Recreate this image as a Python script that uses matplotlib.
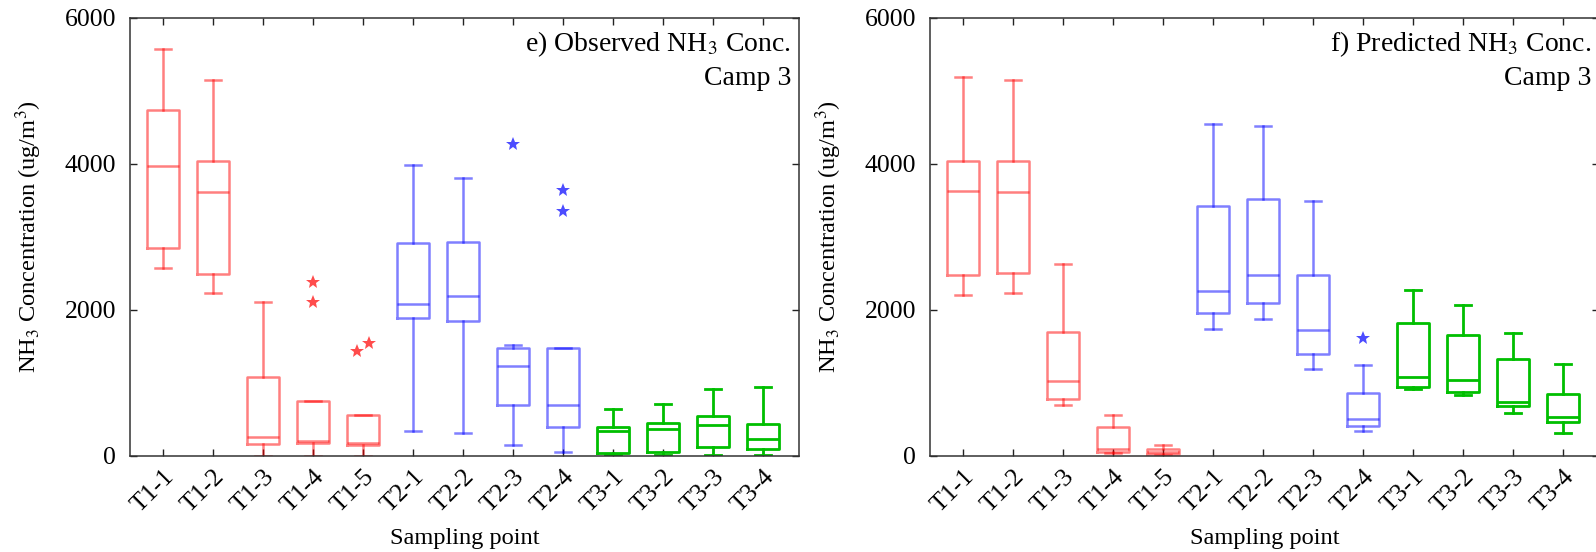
import matplotlib
matplotlib.use("Agg")
import matplotlib.pyplot as plt
import numpy as np

plt.rcParams['font.family'] = ['Liberation Serif', 'DejaVu Serif']
plt.rcParams['mathtext.fontset'] = 'stix'

categories = ["T1-1", "T1-2", "T1-3", "T1-4", "T1-5",
              "T2-1", "T2-2", "T2-3", "T2-4",
              "T3-1", "T3-2", "T3-3", "T3-4"]
groups = ["T1"] * 5 + ["T2"] * 4 + ["T3"] * 4

# Observed (panel e)
obs_whislo = [2569, 2231, 0, 0, 0, 347, 311, 146, 59, 12, 18, 18, 18]
obs_q1     = [2852, 2500, 160, 183, 150, 1888, 1856, 695, 402, 46, 55, 128, 91]
obs_med    = [3972, 3620, 261, 200, 172, 2084, 2194, 1234, 704, 338, 366, 421, 229]
obs_q3     = [4745, 4041, 1079, 750, 567, 2921, 2930, 1481, 1481, 402, 457, 549, 439]
obs_whishi = [5577, 5156, 2107, 750, 567, 3990, 3808, 1527, 1481, 649, 713, 923, 951]
obs_fliers = [[], [], [], [2377, 2112], [1444, 1545], [], [], [4274], [3643, 3351],
              [], [], [], []]
obs_flier_jitter = [[], [], [], [0, 0], [-0.13, 0.13], [], [], [0], [0, 0],
                    [], [], [], []]

# Predicted (panel f)
pre_whislo = [2212, 2231, 695, 37, 9, 1742, 1874, 1193, 347, 914, 832, 594, 320]
pre_q1     = [2478, 2505, 777, 55, 27, 1961, 2094, 1394, 416, 946, 882, 690, 462]
pre_med    = [3629, 3620, 1033, 101, 55, 2254, 2482, 1723, 512, 1088, 1042, 745, 530]
pre_q3     = [4041, 4041, 1705, 393, 101, 3419, 3515, 2482, 859, 1828, 1659, 1326, 846]
pre_whishi = [5193, 5156, 2624, 562, 146, 4548, 4525, 3488, 1252, 2276, 2062, 1691, 1262]
pre_fliers = [[], [], [], [], [], [], [], [], [1623], [], [], [], []]
pre_flier_jitter = [[], [], [], [], [], [], [], [], [0], [], [], [], []]

group_style = {
    "T1": dict(color="#ff0000", alpha=0.5, lw=1.8, falpha=0.7),
    "T2": dict(color="#0000ff", alpha=0.5, lw=1.8, falpha=0.7),
    "T3": dict(color="#00bf00", alpha=1.0, lw=2.0, falpha=1.0),
}

W, H = 1596, 552
fig = plt.figure(figsize=(W / 100, H / 100), dpi=100)
ax_w = 669 / W
ax_b = 1 - 456 / H
ax_h = 438 / H
ax1 = fig.add_axes([130 / W, ax_b, ax_w, ax_h])
ax2 = fig.add_axes([930 / W, ax_b, ax_w, ax_h])


def draw(ax, lo, q1, med, q3, hi, fliers, jitter, title):
    positions = np.arange(1, len(categories) + 1)
    for i, cat in enumerate(categories):
        st = group_style[groups[i]]
        stats = [dict(whislo=lo[i], q1=q1[i], med=med[i], q3=q3[i],
                      whishi=hi[i], fliers=[])]
        lp = dict(color=st["color"], alpha=st["alpha"], linewidth=st["lw"])
        ax.bxp(stats, positions=[positions[i]], widths=0.63, capwidths=0.32,
               showfliers=False, boxprops=lp, whiskerprops=lp, capprops=lp,
               medianprops=lp, manage_ticks=False)
        if fliers[i]:
            xs = [positions[i] + d for d in jitter[i]]
            ax.plot(xs, fliers[i], linestyle="none", marker="*",
                    markersize=10.5, color=st["color"], alpha=st["falpha"],
                    markeredgewidth=0)
    ax.set_xlim(0.34, 13.72)
    ax.set_ylim(0, 6000)
    ax.set_xticks(positions)
    ax.set_xticklabels(categories, rotation=45, ha="right",
                       rotation_mode="anchor", fontsize=18.5)
    ax.set_yticks([0, 2000, 4000, 6000])
    ax.set_yticklabels(["0", "2000", "4000", "6000"], fontsize=18.5)
    ax.tick_params(axis="both", direction="in", top=True, right=True,
                   length=5, width=1, color="#222222")
    ax.tick_params(axis="y", pad=10)
    ax.tick_params(axis="x", pad=7)
    for sp in ax.spines.values():
        sp.set_linewidth(1.1)
        sp.set_color("#333333")
    ax.set_xlabel("Sampling point", fontsize=17.6, labelpad=8)
    ax.set_ylabel("NH$_3$ Concentration (ug/m$^3$)", fontsize=17.6)
    ax.yaxis.set_label_coords(-0.128, 0.5)
    ax.text(0.988, 0.925, title, transform=ax.transAxes, ha="right",
            va="baseline", fontsize=20)
    ax.text(0.988, 0.847, "Camp 3", transform=ax.transAxes, ha="right",
            va="baseline", fontsize=20)


draw(ax1, obs_whislo, obs_q1, obs_med, obs_q3, obs_whishi, obs_fliers,
     obs_flier_jitter, "e) Observed NH$_3$ Conc.")
draw(ax2, pre_whislo, pre_q1, pre_med, pre_q3, pre_whishi, pre_fliers,
     pre_flier_jitter, "f) Predicted NH$_3$ Conc.")

fig.savefig("out.png", dpi=100)
